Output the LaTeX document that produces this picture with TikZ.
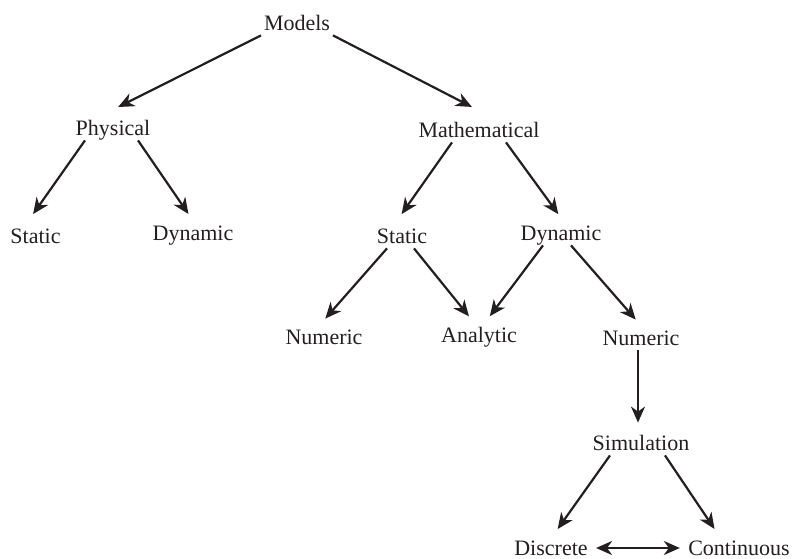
\documentclass[tikz,border=0pt]{standalone}
\usepackage{fontspec}
\setmainfont{Liberation Serif}
\usetikzlibrary{arrows.meta}
\definecolor{ink}{RGB}{35,31,32}
\tikzset{>={Stealth[length=8pt,width=7pt,inset=2.5pt]}}

\begin{document}
\begin{tikzpicture}[x=0.5pt,y=-0.5pt,
  every node/.style={font=\fontsize{11}{13}\selectfont,text=ink,inner xsep=4pt,inner ysep=0pt,text height=9.5pt,text depth=2.5pt},
  arr/.style={->,line width=1.1pt,draw=ink,shorten >=4pt}]
\useasboundingbox (0,0) rectangle (794,558);
\node (M) at (297,23) {Models};
\node (P) at (113,128) {Physical};
\node (Ma) at (479,130) {Mathematical};
\node (PS) at (35.5,236) {Static};
\node (PD) at (193,233) {Dynamic};
\node (MS) at (402,236) {Static};
\node (MD) at (561,233) {Dynamic};
\node (SN) at (324,337) {Numeric};
\node (A) at (479,335) {Analytic};
\node (DN) at (641,338) {Numeric};
\node (S) at (641,443) {Simulation};
\node (D) at (551,548) {Discrete};
\node (C) at (739,548) {Continuous};
\draw[arr] ([xshift=-18pt]M.south) -- ([xshift=-1pt,yshift=2.5pt]P.north);
\draw[arr] ([xshift=18pt]M.south) -- ([yshift=3.5pt]Ma.north);
\draw[arr] ([xshift=-14pt]P.south) -- ([xshift=-3.5pt,yshift=1.5pt]PS.north);
\draw[arr] ([xshift=12.5pt]P.south) -- (PD.north);
\draw[arr] ([xshift=-13.5pt]Ma.south) -- ([xshift=-2.5pt,yshift=1.5pt]MS.north);
\draw[arr] ([xshift=13.5pt]Ma.south) -- ([xshift=1pt]MD.north);
\draw[arr] ([xshift=-7.5pt]MS.south) -- ([xshift=-2pt]SN.north);
\draw[arr] ([xshift=6pt]MS.south) -- ([xshift=-2.5pt]A.north);
\draw[arr] ([xshift=-9pt]MD.south) -- ([xshift=3pt]A.north);
\draw[arr] ([xshift=5pt]MD.south) -- (DN.north);
\draw[arr] ([xshift=-1.5pt]DN.south) -- ([xshift=-1.5pt]S.north);
\draw[arr] ([xshift=-15.5pt]S.south) -- ([xshift=1pt]D.north);
\draw[arr] ([xshift=12pt]S.south) -- ([xshift=-10pt]C.north);
\draw[arr,<->,shorten >=0pt] (D.east) -- (C.west);
\end{tikzpicture}
\end{document}
